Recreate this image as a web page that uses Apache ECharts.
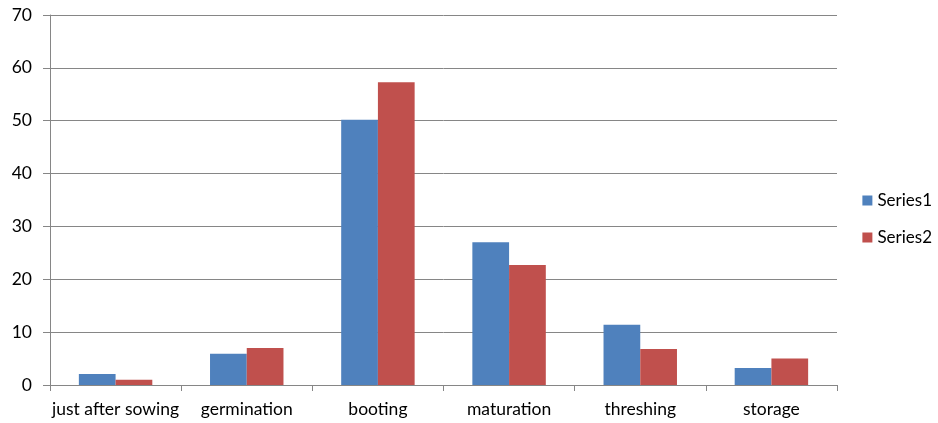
<!DOCTYPE html>
<html>
<head>
    <meta charset="utf-8">
    <title>Series chart</title>
    <script src="https://cdn.jsdelivr.net/npm/echarts@6/dist/echarts.min.js"></script>
    <style type="text/css">
        body { margin: 0; background: #fff; }
        #main { width: 938px; height: 423px; }
    </style>
</head>
<body>
    <div id="main"></div>
    <script type="text/javascript">
        var stages = ['just after sowing', 'germination', 'booting', 'maturation', 'threshing', 'storage'];
        var series1 = [2.1, 5.9, 50.2, 27.0, 11.4, 3.2];
        var series2 = [1.0, 7.0, 57.3, 22.7, 6.8, 5.0];

        var font = 'Lato';
        var chart = echarts.init(document.getElementById('main'));

        var option = {
            animation: false,
            textStyle: { fontFamily: font },
            grid: { left: 50, right: 101, top: 15, bottom: 38 },
            legend: {
                orient: 'vertical',
                right: 1,
                top: 187,
                itemWidth: 10,
                itemHeight: 10,
                itemGap: 20,
                icon: 'rect',
                textStyle: { fontSize: 17, color: '#000', fontFamily: font },
                data: ['Series1', 'Series2']
            },
            xAxis: {
                type: 'category',
                data: stages,
                axisLine: { lineStyle: { color: '#868686' } },
                axisTick: { show: true, length: 6, lineStyle: { color: '#868686' } },
                axisLabel: { color: '#000', fontSize: 17.5, margin: 15, interval: 0 }
            },
            yAxis: {
                type: 'value',
                min: 0,
                max: 70,
                interval: 10,
                axisLine: { show: true, lineStyle: { color: '#868686' } },
                axisTick: { show: true, length: 7, lineStyle: { color: '#868686' } },
                axisLabel: { color: '#000', fontSize: 17.5, margin: 18 },
                splitLine: { lineStyle: { color: '#868686' } }
            },
            series: [
                {
                    name: 'Series1',
                    type: 'bar',
                    data: series1,
                    barGap: '0%',
                    barCategoryGap: '44%',
                    itemStyle: { color: '#4F81BD' }
                },
                {
                    name: 'Series2',
                    type: 'bar',
                    data: series2,
                    itemStyle: { color: '#C0504D' }
                }
            ]
        };
        chart.setOption(option);
    </script>
</body>
</html>
